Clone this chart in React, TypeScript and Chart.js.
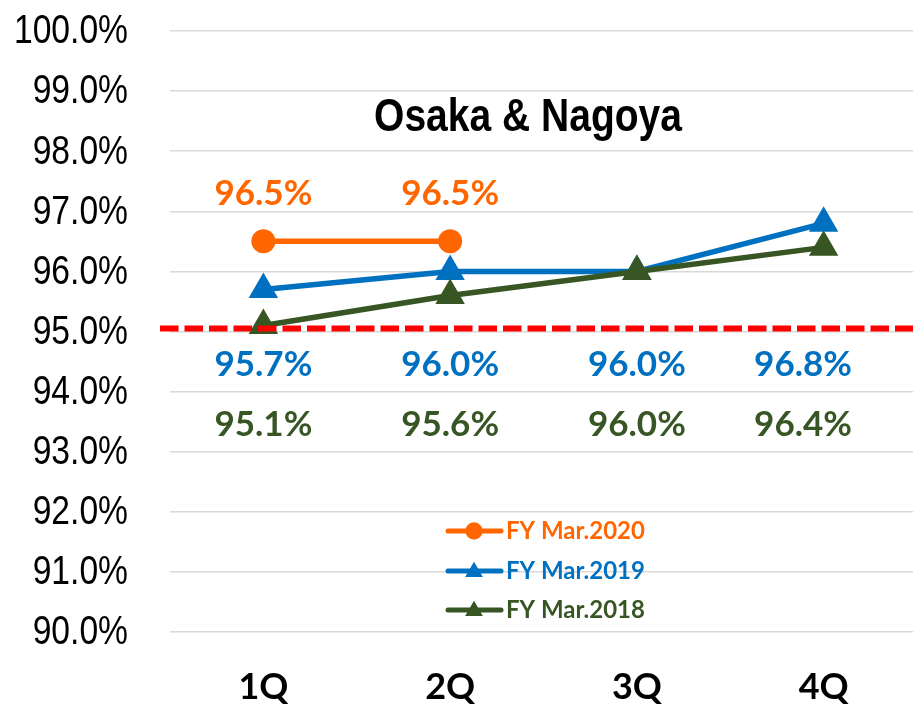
import React, { useEffect, useRef } from "react";
import { Chart, registerables } from "chart.js";
import { drawPoint } from "chart.js/helpers";
Chart.register(...registerables);

const quarters = ["1Q", "2Q", "3Q", "4Q"];
const fy2020: (number | null)[] = [96.5, 96.5, null, null];
const fy2019: (number | null)[] = [95.7, 96.0, 96.0, 96.8];
const fy2018: (number | null)[] = [95.1, 95.6, 96.0, 96.4];
const seriesNames = ["FY Mar.2020", "FY Mar.2019", "FY Mar.2018"];
const targetRate = 95.05;
const yTickValues = [90, 91, 92, 93, 94, 95, 96, 97, 98, 99, 100];
const chartTitle = "Osaka & Nagoya";

const ORANGE = "#FF6600";
const BLUE = "#0070C0";
const GREEN = "#375623";

const ARIAL = "'Liberation Sans', Arial, sans-serif";
const LABEL_FONT = "Lato, 'Open Sans', sans-serif";

function drawCondensed(
  ctx: CanvasRenderingContext2D,
  text: string,
  x: number,
  y: number,
  sx: number,
  align: CanvasTextAlign
) {
  ctx.save();
  ctx.translate(x, y);
  ctx.scale(sx, 1);
  ctx.textAlign = align;
  ctx.textBaseline = "middle";
  ctx.fillText(text, 0, 0);
  ctx.restore();
}

const overlay = {
  id: "overlay",
  afterDraw(chart: any) {
    const { ctx, chartArea, scales } = chart;
    const y = scales.y;
    ctx.save();
    ctx.fillStyle = "#000";
    ctx.font = `41px ${ARIAL}`;
    y.ticks.forEach((t: any) => {
      drawCondensed(ctx, Number(t.value).toFixed(1) + "%", chartArea.left - 42, y.getPixelForValue(t.value) + 1, 0.82, "right");
    });
    ctx.restore();
  },
  afterDatasetsDraw(chart: any) {
    const { ctx, chartArea, scales } = chart;
    const x = scales.x;
    const y = scales.y;
    ctx.save();
    // target line
    const ty = y.getPixelForValue(targetRate);
    ctx.strokeStyle = "#FF0000";
    ctx.lineWidth = 6;
    ctx.setLineDash([18.5, 6]);
    ctx.beginPath();
    ctx.moveTo(chartArea.left - 10, ty);
    ctx.lineTo(chart.width, ty);
    ctx.stroke();
    ctx.setLineDash([]);

    // data labels
    const rows = [97.3, 94.45, 93.45];
    ctx.font = `bold 35px ${LABEL_FONT}`;
    ctx.textAlign = "center";
    ctx.textBaseline = "middle";
    chart.data.datasets.forEach((ds: any, di: number) => {
      ctx.fillStyle = ds.borderColor;
      ds.data.forEach((v: number | null, i: number) => {
        if (v == null) return;
        const text = v.toFixed(1) + "%";
        const w = ctx.measureText(text).width;
        let px = x.getPixelForValue(i);
        const maxRight = 852;
        if (px + w / 2 > maxRight) px = maxRight - w / 2;
        ctx.fillText(text, px, y.getPixelForValue(rows[di]));
      });
    });

    // title
    ctx.fillStyle = "#000";
    ctx.font = `bold 47px ${ARIAL}`;
    drawCondensed(ctx, chartTitle, 528, 118, 0.83, "center");

    // legend
    const legendY = [531, 571, 610];
    chart.data.datasets.forEach((ds: any, di: number) => {
      const ly = legendY[di];
      ctx.strokeStyle = ds.borderColor;
      ctx.lineWidth = 5;
      ctx.lineCap = "round";
      ctx.beginPath();
      ctx.moveTo(448, ly);
      ctx.lineTo(501, ly);
      ctx.stroke();
      ctx.fillStyle = ds.borderColor;
      drawPoint(
        ctx,
        {
          pointStyle: ds.pointStyle,
          radius: ds.pointStyle === "circle" ? 8.5 : 10,
          rotation: 0,
          borderWidth: 0,
        } as any,
        474,
        ds.pointStyle === "circle" ? ly : ly + 1
      );
      ctx.fill();
      ctx.fillStyle = ds.borderColor;
      ctx.font = `bold 24px ${LABEL_FONT}`;
      ctx.textAlign = "left";
      ctx.textBaseline = "middle";
      ctx.fillText(ds.label, 506, ly);
    });
    ctx.restore();
  },
};

export default function App() {
  const ref = useRef<HTMLCanvasElement>(null);
  useEffect(() => {
    const chart = new Chart(ref.current!, {
      type: "line",
      data: {
        labels: quarters,
        datasets: [
          {
            label: seriesNames[0],
            data: fy2020,
            borderColor: ORANGE,
            backgroundColor: ORANGE,
            pointBackgroundColor: ORANGE,
            borderWidth: 5.5,
            pointStyle: "circle",
            pointRadius: 12,
            pointBorderWidth: 0,
            tension: 0,
            order: 2,
          },
          {
            label: seriesNames[1],
            data: fy2019,
            borderColor: BLUE,
            backgroundColor: BLUE,
            pointBackgroundColor: BLUE,
            borderWidth: 5.5,
            pointStyle: "triangle",
            pointRadius: 17,
            pointBorderWidth: 0,
            tension: 0,
            order: 1,
          },
          {
            label: seriesNames[2],
            data: fy2018,
            borderColor: GREEN,
            backgroundColor: GREEN,
            pointBackgroundColor: GREEN,
            borderWidth: 5.5,
            pointStyle: "triangle",
            pointRadius: 17,
            pointBorderWidth: 0,
            tension: 0,
            order: 0,
          },
        ],
      } as any,
      options: {
        animation: false,
        responsive: false,
        maintainAspectRatio: false,
        layout: { padding: { top: 31, left: 0, right: 0, bottom: 0 } },
        plugins: {
          legend: { display: false },
          tooltip: { enabled: false },
        },
        scales: {
          x: {
            type: "category",
            offset: true,
            grid: { display: false, drawTicks: false },
            border: { display: false },
            ticks: {
              font: { family: LABEL_FONT, size: 36, weight: "bold" },
              color: "#000",
              padding: 34,
            },
            afterFit: (s: any) => {
              s.height = 82;
            },
          },
          y: {
            min: 90,
            max: 100,
            grid: { color: "#d9d9d9", lineWidth: 1.5, drawTicks: false },
            border: { display: false },
            afterBuildTicks: (s: any) => {
              s.ticks = yTickValues.map((v) => ({ value: v }));
            },
            ticks: { display: false },
            afterFit: (s: any) => {
              s.width = 170;
            },
          },
        },
      } as any,
      plugins: [overlay],
    });
    return () => chart.destroy();
  }, []);
  return (
    <div
      style={{
        position: "absolute",
        left: 0,
        top: 0,
        width: 913,
        height: 714,
        overflow: "hidden",
        background: "#fff",
      }}
    >
      <canvas ref={ref} width={934} height={714} style={{ display: "block" }} />
    </div>
  );
}
